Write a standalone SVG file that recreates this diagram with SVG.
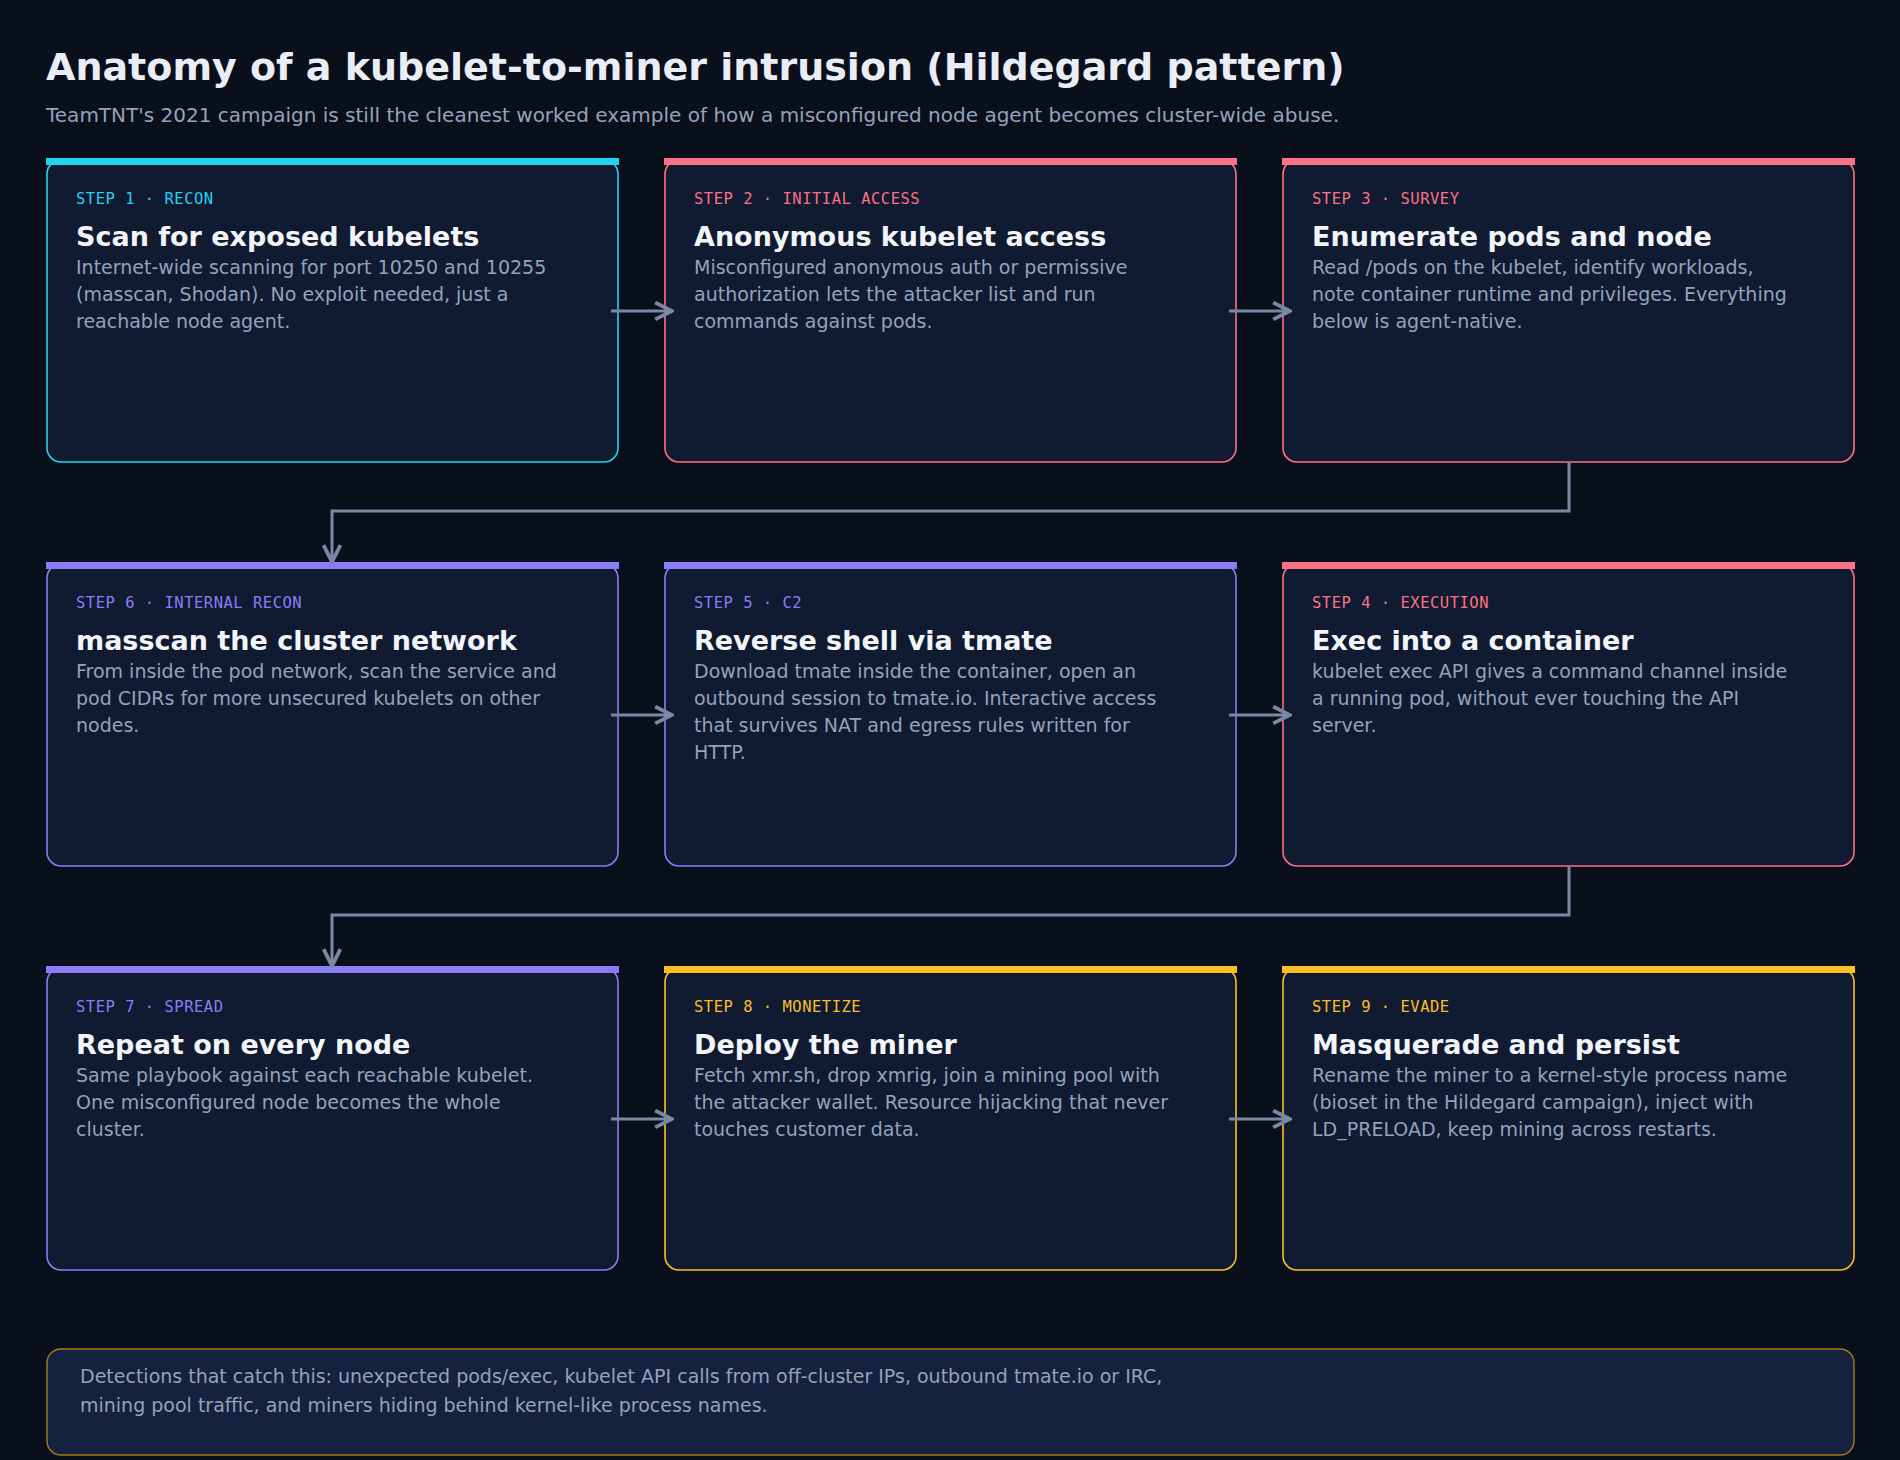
<svg xmlns="http://www.w3.org/2000/svg" width="1900" height="1460" viewBox="0 0 1900 1460">
<defs>
<marker id="ah" viewBox="0 0 10 10" refX="9" refY="5" markerWidth="7" markerHeight="7" orient="auto"><path d="M1,1 L9,5 L1,9" fill="none" stroke="#7b88a3" stroke-width="1.8"/></marker>
<style>
.card{fill:#101a31;stroke-width:1.6}
.lbl{font-family:"DejaVu Sans Mono",monospace;font-size:15.5px;letter-spacing:0.5px}
.h{font-family:"DejaVu Sans",sans-serif;font-size:27px;font-weight:bold;fill:#f1f5f9}
.b{font-family:"DejaVu Sans",sans-serif;font-size:19px;fill:#94a3b8}
.c{stroke:#7b88a3;stroke-width:3;fill:none;marker-end:url(#ah)}
</style>
</defs>
<rect width="1900" height="1460" fill="#0a0f1c"/>
<text x="46" y="80" font-family="DejaVu Sans,sans-serif" font-size="38" font-weight="bold" fill="#e8edf6">Anatomy of a kubelet-to-miner intrusion (Hildegard pattern)</text>
<text x="46" y="122" font-family="DejaVu Sans,sans-serif" font-size="20" fill="#94a3b8">TeamTNT's 2021 campaign is still the cleanest worked example of how a misconfigured node agent becomes cluster-wide abuse.</text>

<g id="n1"><rect class="card" x="47" y="160" width="571" height="302" rx="14" stroke="#22d3ee"/><rect x="46" y="158" width="573" height="7" fill="#22d3ee"/>
<text class="lbl" x="76" y="204" fill="#22d3ee">STEP 1 · RECON</text><text class="h" x="76" y="246">Scan for exposed kubelets</text>
<text class="b" x="76" y="274">Internet-wide scanning for port 10250 and 10255</text><text class="b" x="76" y="301">(masscan, Shodan). No exploit needed, just a</text><text class="b" x="76" y="328">reachable node agent.</text></g>
<g id="n2"><rect class="card" x="665" y="160" width="571" height="302" rx="14" stroke="#fb7185"/><rect x="664" y="158" width="573" height="7" fill="#fb7185"/>
<text class="lbl" x="694" y="204" fill="#fb7185">STEP 2 · INITIAL ACCESS</text><text class="h" x="694" y="246">Anonymous kubelet access</text>
<text class="b" x="694" y="274">Misconfigured anonymous auth or permissive</text><text class="b" x="694" y="301">authorization lets the attacker list and run</text><text class="b" x="694" y="328">commands against pods.</text></g>
<g id="n3"><rect class="card" x="1283" y="160" width="571" height="302" rx="14" stroke="#fb7185"/><rect x="1282" y="158" width="573" height="7" fill="#fb7185"/>
<text class="lbl" x="1312" y="204" fill="#fb7185">STEP 3 · SURVEY</text><text class="h" x="1312" y="246">Enumerate pods and node</text>
<text class="b" x="1312" y="274">Read /pods on the kubelet, identify workloads,</text><text class="b" x="1312" y="301">note container runtime and privileges. Everything</text><text class="b" x="1312" y="328">below is agent-native.</text></g>

<g id="n6"><rect class="card" x="47" y="564" width="571" height="302" rx="14" stroke="#8b7cf6"/><rect x="46" y="562" width="573" height="7" fill="#8b7cf6"/>
<text class="lbl" x="76" y="608" fill="#8b7cf6">STEP 6 · INTERNAL RECON</text><text class="h" x="76" y="650">masscan the cluster network</text>
<text class="b" x="76" y="678">From inside the pod network, scan the service and</text><text class="b" x="76" y="705">pod CIDRs for more unsecured kubelets on other</text><text class="b" x="76" y="732">nodes.</text></g>
<g id="n5"><rect class="card" x="665" y="564" width="571" height="302" rx="14" stroke="#8b7cf6"/><rect x="664" y="562" width="573" height="7" fill="#8b7cf6"/>
<text class="lbl" x="694" y="608" fill="#8b7cf6">STEP 5 · C2</text><text class="h" x="694" y="650">Reverse shell via tmate</text>
<text class="b" x="694" y="678">Download tmate inside the container, open an</text><text class="b" x="694" y="705">outbound session to tmate.io. Interactive access</text><text class="b" x="694" y="732">that survives NAT and egress rules written for</text><text class="b" x="694" y="759">HTTP.</text></g>
<g id="n4"><rect class="card" x="1283" y="564" width="571" height="302" rx="14" stroke="#fb7185"/><rect x="1282" y="562" width="573" height="7" fill="#fb7185"/>
<text class="lbl" x="1312" y="608" fill="#fb7185">STEP 4 · EXECUTION</text><text class="h" x="1312" y="650">Exec into a container</text>
<text class="b" x="1312" y="678">kubelet exec API gives a command channel inside</text><text class="b" x="1312" y="705">a running pod, without ever touching the API</text><text class="b" x="1312" y="732">server.</text></g>

<g id="n7"><rect class="card" x="47" y="968" width="571" height="302" rx="14" stroke="#8b7cf6"/><rect x="46" y="966" width="573" height="7" fill="#8b7cf6"/>
<text class="lbl" x="76" y="1012" fill="#8b7cf6">STEP 7 · SPREAD</text><text class="h" x="76" y="1054">Repeat on every node</text>
<text class="b" x="76" y="1082">Same playbook against each reachable kubelet.</text><text class="b" x="76" y="1109">One misconfigured node becomes the whole</text><text class="b" x="76" y="1136">cluster.</text></g>
<g id="n8"><rect class="card" x="665" y="968" width="571" height="302" rx="14" stroke="#fbbf24"/><rect x="664" y="966" width="573" height="7" fill="#fbbf24"/>
<text class="lbl" x="694" y="1012" fill="#fbbf24">STEP 8 · MONETIZE</text><text class="h" x="694" y="1054">Deploy the miner</text>
<text class="b" x="694" y="1082">Fetch xmr.sh, drop xmrig, join a mining pool with</text><text class="b" x="694" y="1109">the attacker wallet. Resource hijacking that never</text><text class="b" x="694" y="1136">touches customer data.</text></g>
<g id="n9"><rect class="card" x="1283" y="968" width="571" height="302" rx="14" stroke="#fbbf24"/><rect x="1282" y="966" width="573" height="7" fill="#fbbf24"/>
<text class="lbl" x="1312" y="1012" fill="#fbbf24">STEP 9 · EVADE</text><text class="h" x="1312" y="1054">Masquerade and persist</text>
<text class="b" x="1312" y="1082">Rename the miner to a kernel-style process name</text><text class="b" x="1312" y="1109">(bioset in the Hildegard campaign), inject with</text><text class="b" x="1312" y="1136">LD_PRELOAD, keep mining across restarts.</text></g>

<g id="connectors">
<path class="c" d="M611,311 H672"/><path class="c" d="M1229,311 H1290"/>
<path class="c" d="M1569,462 V511 H332 V562"/>
<path class="c" d="M611,715 H672"/><path class="c" d="M1229,715 H1290"/>
<path class="c" d="M1569,866 V915 H332 V966"/>
<path class="c" d="M611,1119 H672"/><path class="c" d="M1229,1119 H1290"/>
</g>

<g id="footer"><rect x="47" y="1349" width="1807" height="106" rx="14" fill="#15223d" stroke="#a17d16" stroke-width="1.4"/>
<text class="b" x="80" y="1383">Detections that catch this: unexpected pods/exec, kubelet API calls from off-cluster IPs, outbound tmate.io or IRC,</text>
<text class="b" x="80" y="1412">mining pool traffic, and miners hiding behind kernel-like process names.</text></g>
</svg>
